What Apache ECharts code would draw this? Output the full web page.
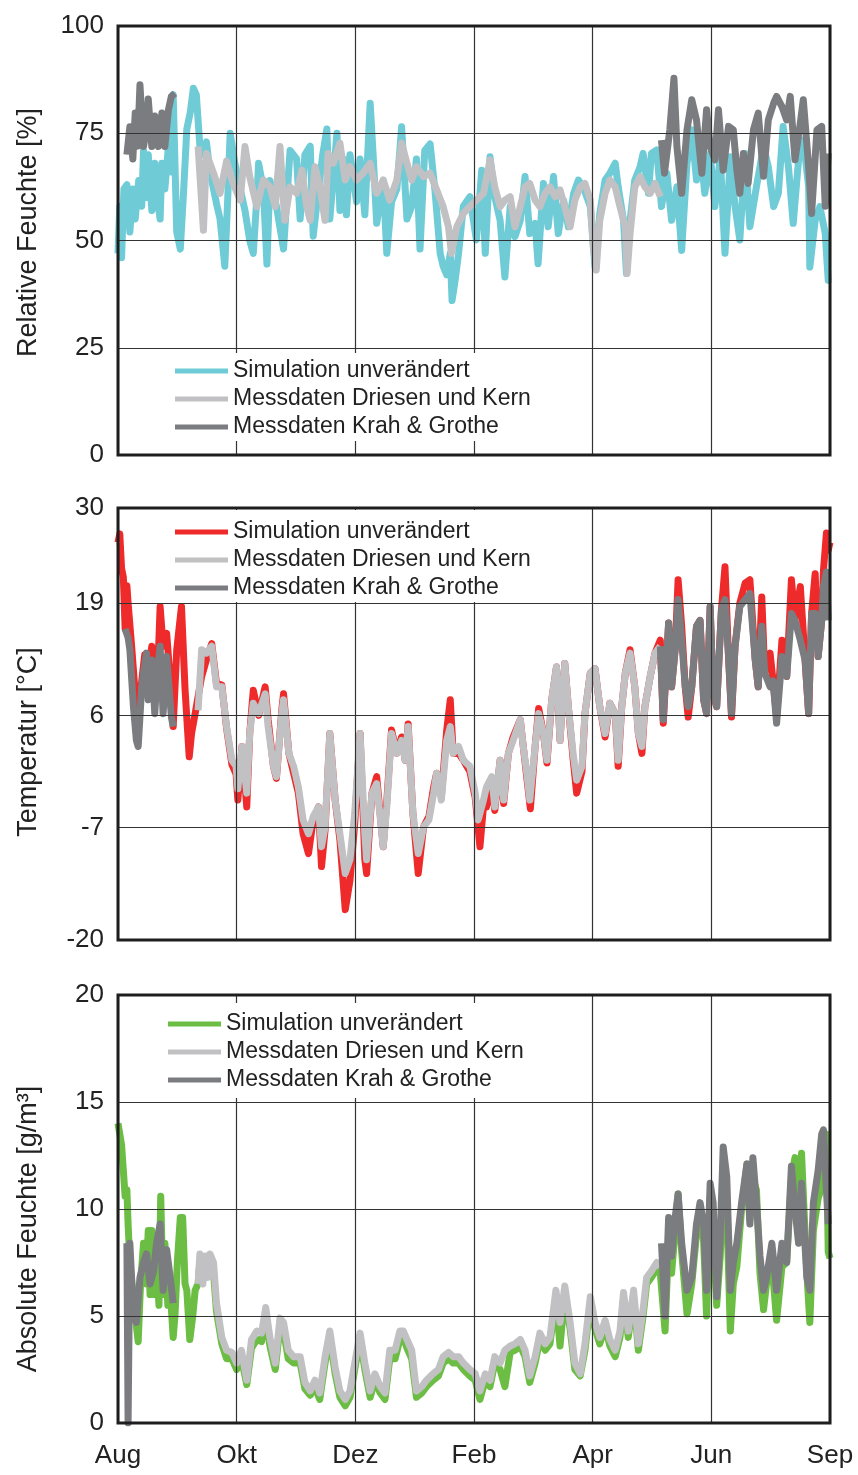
<!DOCTYPE html>
<html>
<head>
<meta charset="utf-8">
<script src="https://cdn.jsdelivr.net/npm/echarts@6/dist/echarts.min.js"></script>
<style>
  html, body { margin: 0; padding: 0; background: #fff; }
  #chart { width: 858px; height: 1475px; }
</style>
</head>
<body>
<div id="chart"></div>
<script>
// x values are months counted from 1 August
const monthLabels = ['Aug', 'Okt', 'Dez', 'Feb', 'Apr', 'Jun', 'Sep'];
const seriesNames = ['Simulation unverändert', 'Messdaten Driesen und Kern', 'Messdaten Krah & Grothe'];

// Relative Feuchte [%]
const rhSim = [[0,47],[0.03,58],[0.06,46],[0.1,62],[0.15,63],[0.2,52],[0.25,62],[0.29,55],[0.35,64],[0.4,58],[0.43,71],[0.48,60],[0.51,70],[0.57,57],[0.62,68],[0.68,58],[0.71,55],[0.74,68],[0.79,62],[0.85,72],[0.9,66],[0.93,84],[0.99,52],[1.05,48],[1.1,60],[1.16,76],[1.22,80],[1.27,85.5],[1.32,84],[1.38,72],[1.44,70],[1.49,73],[1.55,66],[1.61,62],[1.67,58],[1.72,55],[1.8,44],[1.85,60],[1.89,75],[1.97,68],[2.06,62],[2.14,57],[2.22,50],[2.28,47],[2.34,60],[2.37,68],[2.45,62],[2.51,44.5],[2.56,64],[2.67,58],[2.73,53],[2.79,48],[2.9,71],[3.01,69],[3.07,55],[3.15,70],[3.24,72],[3.29,51],[3.38,62],[3.45,70],[3.52,76],[3.57,55],[3.69,75],[3.74,57],[3.8,69],[3.85,56],[3.91,70],[4.02,59],[4.08,69],[4.16,56],[4.25,82],[4.3,70],[4.36,54],[4.47,64],[4.53,47],[4.61,59],[4.7,62],[4.78,76.5],[4.87,55],[4.95,58],[5.03,69],[5.09,48],[5.17,71],[5.26,72.5],[5.34,62],[5.43,47],[5.48,44],[5.54,42],[5.6,47],[5.63,36],[5.68,40.5],[5.74,47],[5.82,58],[5.93,60.2],[6.04,50.1],[6.13,66.4],[6.19,47],[6.27,69.5],[6.35,60.2],[6.44,54.7],[6.52,41.5],[6.61,57.9],[6.69,50.9],[6.78,54.7],[6.86,64.9],[6.94,51.6],[7.03,54],[7.08,44.6],[7.17,63.3],[7.25,53.2],[7.34,64.9],[7.42,51.6],[7.51,59.4],[7.59,53.2],[7.68,61],[7.76,64.1],[7.84,62.5],[7.96,57.9],[8.04,43.8],[8.12,56.3],[8.21,64.1],[8.29,65.7],[8.38,68],[8.43,62.5],[8.52,54.7],[8.57,42.3],[8.63,54.7],[8.71,64.1],[8.8,67.2],[8.85,70.3],[8.94,61],[8.99,70.3],[9.08,71.1],[9.16,57.9],[9.25,65.7],[9.33,54.7],[9.42,62.5],[9.5,47.7],[9.59,68],[9.67,75.8],[9.75,64.1],[9.81,71.9],[9.89,61],[9.98,70.3],[10.06,57.9],[10.15,69.5],[10.23,47],[10.32,69.5],[10.4,57.9],[10.48,50.1],[10.57,70.3],[10.65,53.2],[10.76,62.5],[10.88,71.9],[10.96,67.2],[11.05,57.9],[11.13,61],[11.21,76.6],[11.3,67.2],[11.38,54],[11.47,68.8],[11.55,73.4],[11.64,62.5],[11.66,43.8],[11.75,54.7],[11.83,57.9],[11.92,51.6],[11.97,40.7],[12,41]];
const rhDriesen = [[1.35,71.9],[1.44,52.4],[1.49,70.3],[1.61,65.7],[1.72,61],[1.83,68.5],[1.94,63.3],[2.06,59.4],[2.14,71.9],[2.22,64.9],[2.34,57.9],[2.45,64.1],[2.56,62.5],[2.65,57.9],[2.73,71.9],[2.81,54.7],[2.9,62.5],[3.01,61],[3.1,66.4],[3.18,57.9],[3.24,54.7],[3.32,67.2],[3.4,62.5],[3.49,54.7],[3.54,70.3],[3.63,68],[3.74,72.7],[3.83,64.1],[3.91,67.2],[4.02,64.1],[4.13,65.7],[4.25,68],[4.36,61],[4.47,64.1],[4.58,59.4],[4.7,64.1],[4.78,72.7],[4.87,68],[4.95,64.1],[5.03,67.2],[5.15,64.9],[5.26,65.7],[5.37,61.8],[5.48,57.9],[5.57,53.2],[5.62,47],[5.71,53.2],[5.82,56.3],[5.93,57.9],[6.04,59.4],[6.16,61],[6.27,68.8],[6.35,62.5],[6.44,57.9],[6.52,59.4],[6.61,60.2],[6.69,53.2],[6.78,57.9],[6.86,62.5],[6.94,63.3],[7.03,59.4],[7.11,57.9],[7.2,61],[7.28,62.5],[7.37,60.2],[7.45,61.8],[7.53,57.9],[7.62,53.2],[7.7,59.4],[7.79,62.5],[7.87,63.3],[7.96,59.4],[8.01,48.5],[8.06,43.1],[8.12,54.7],[8.21,61],[8.29,64.1],[8.38,62.5],[8.46,57.9],[8.55,53.2],[8.58,42.3],[8.63,51.6],[8.71,62.5],[8.8,64.9],[8.88,62.5],[8.97,61],[9.05,63.3],[9.14,60.2]];
const rhKrahEarly = [[0.15,70],[0.2,76.5],[0.25,69],[0.29,79.7],[0.33,72],[0.37,86.3],[0.43,71.9],[0.48,76],[0.51,83],[0.57,71.9],[0.62,79],[0.68,71.9],[0.74,79.7],[0.79,71.9],[0.85,80.5],[0.9,83.6],[0.96,84.3]];
const rhKrahLate = [[9.16,73.4],[9.21,65.7],[9.3,75.8],[9.37,87.8],[9.42,71.9],[9.5,61],[9.59,75.8],[9.67,82.8],[9.75,78.1],[9.84,65.7],[9.92,80.5],[9.98,71.9],[10.06,68.8],[10.12,80.5],[10.2,66.4],[10.29,76.6],[10.37,75.8],[10.43,66.4],[10.48,61],[10.54,70.3],[10.62,63.3],[10.71,75.8],[10.79,79.7],[10.88,65],[10.96,78.1],[11.05,82],[11.1,83.6],[11.19,81.2],[11.27,78.1],[11.33,83.6],[11.41,68.8],[11.5,77.4],[11.55,82.8],[11.64,67.2],[11.69,56.3],[11.78,75.8],[11.86,76.6],[11.92,58],[11.97,70.3]];

// Temperatur [°C]
const tSim = [[0,26],[0.03,27],[0.06,23],[0.09,22],[0.12,16],[0.15,21],[0.17,19],[0.23,14],[0.29,8.5],[0.34,6],[0.4,10],[0.45,13],[0.51,11],[0.57,14],[0.62,10],[0.68,13],[0.71,18.6],[0.76,14],[0.82,15.5],[0.88,10],[0.93,4.7],[0.99,13.6],[1.07,18.6],[1.13,9],[1.2,1.2],[1.24,3.9],[1.3,6.2],[1.41,10.5],[1.49,12.4],[1.58,14.3],[1.66,9.7],[1.75,9.5],[1.83,4.5],[1.92,0.3],[1.99,-0.8],[2.02,-3.8],[2.09,2.4],[2.17,-4.6],[2.22,3.9],[2.28,8.9],[2.37,6],[2.48,9.3],[2.53,5.5],[2.62,0.1],[2.67,-1.3],[2.76,6.6],[2.79,8.5],[2.88,1.6],[2.96,-0.7],[3.04,-3],[3.12,-7.7],[3.21,-10],[3.29,-6.1],[3.38,-4.6],[3.43,-11.5],[3.49,-7.3],[3.57,3.9],[3.66,-3.8],[3.74,-8.4],[3.83,-16.5],[3.91,-13.1],[3.99,-6.5],[4.08,3.9],[4.16,-10.7],[4.19,-12.3],[4.28,-3],[4.36,-1.1],[4.47,-9.2],[4.53,-4],[4.61,4.3],[4.7,1.6],[4.78,3.5],[4.84,0.8],[4.89,5],[4.97,-5.3],[5.06,-12.3],[5.15,-6.9],[5.24,-5.7],[5.32,-2.3],[5.37,-0.7],[5.45,-3.4],[5.54,4.3],[5.6,7.8],[5.65,1.6],[5.74,1.6],[5.82,0.8],[5.93,-0.5],[6.02,-3.5],[6.1,-9.2],[6.16,-4.5],[6.21,-4.6],[6.3,-2],[6.35,-5],[6.44,0.8],[6.5,-4.2],[6.58,1.6],[6.66,3.5],[6.78,5.5],[6.83,2.4],[6.89,-1.2],[6.95,-4.8],[7.03,2.4],[7.09,6.8],[7.17,3.9],[7.23,0.5],[7.31,7.8],[7.39,11.6],[7.45,3.1],[7.53,12],[7.59,7],[7.67,1],[7.73,-3],[7.82,-0.5],[7.87,6.2],[7.96,10.9],[8.04,11.4],[8.12,7],[8.21,3.5],[8.29,7.4],[8.38,6.2],[8.43,0.1],[8.49,7],[8.55,10.9],[8.63,13.6],[8.71,9.3],[8.77,3.9],[8.83,1.6],[8.88,7],[8.97,10.5],[9.05,13.2],[9.14,14.7],[9.19,5.1],[9.28,16.7],[9.33,9.3],[9.39,13.6],[9.44,21.7],[9.5,16.3],[9.56,9.3],[9.61,5.8],[9.67,9.3],[9.75,16.3],[9.81,17],[9.87,7.8],[9.92,6.2],[9.98,18.6],[10.03,8.5],[10.09,7],[10.17,18.2],[10.23,23.2],[10.29,12.8],[10.34,5.8],[10.4,14],[10.48,19],[10.57,21.3],[10.65,21.7],[10.74,12.4],[10.79,9.3],[10.85,19.7],[10.9,10.9],[10.99,13.2],[11.04,10],[11.1,5.8],[11.19,14.7],[11.27,10.5],[11.35,21.7],[11.41,17],[11.5,20.9],[11.58,12.4],[11.64,6.2],[11.69,17.8],[11.75,22.4],[11.8,12.8],[11.86,17],[11.89,22.8],[11.94,27.1],[11.97,25.1],[12,26]];
const tDriesen = [[1.35,6.6],[1.41,13.6],[1.49,13.2],[1.58,14],[1.66,9.3],[1.75,9.3],[1.83,4.7],[1.92,0.8],[1.99,0.1],[2.02,-2.5],[2.09,2.4],[2.17,-3],[2.22,3.9],[2.28,7.4],[2.37,6.2],[2.48,8.5],[2.53,4.7],[2.62,0.1],[2.67,-1.1],[2.76,6.2],[2.79,7.8],[2.88,1.6],[2.96,0.1],[3.04,-2.3],[3.12,-6.1],[3.21,-7.7],[3.29,-5.7],[3.38,-4.6],[3.43,-9.2],[3.49,-6.9],[3.57,3.9],[3.66,-3.8],[3.74,-7.7],[3.83,-12.3],[3.91,-10.7],[3.99,-5.3],[4.08,3.9],[4.16,-7.7],[4.19,-10.7],[4.28,-3],[4.36,-1.9],[4.47,-9.2],[4.53,-4.6],[4.61,3.9],[4.7,1.6],[4.78,3.1],[4.84,0.8],[4.89,4.7],[4.97,-5.3],[5.06,-10],[5.15,-6.9],[5.24,-6.1],[5.32,-3],[5.37,-0.7],[5.45,-3.8],[5.54,3.1],[5.6,4.7],[5.65,1.6],[5.74,2.4],[5.82,0.8],[5.93,0.1],[6.02,-3],[6.07,-6.1],[6.16,-3.8],[6.21,-2.3],[6.3,-1.1],[6.35,-4.6],[6.44,0.8],[6.5,-3.8],[6.58,1.6],[6.66,3.1],[6.78,5.5],[6.83,2.4],[6.89,-0.7],[6.94,-3.8],[7.03,2.4],[7.09,6.2],[7.17,3.9],[7.23,0.8],[7.31,7.8],[7.39,11.6],[7.45,3.1],[7.53,12],[7.59,7],[7.67,1.6],[7.73,-1.5],[7.82,0.1],[7.87,6.2],[7.96,10.9],[8.04,11.4],[8.12,7],[8.21,3.9],[8.29,7.4],[8.38,6.2],[8.43,0.8],[8.49,7],[8.55,10.9],[8.63,13.2],[8.71,9.3],[8.77,3.9],[8.83,2.4],[8.88,7],[8.97,10.5],[9.05,13.2],[9.14,14]];
const tKrahEarly = [[0.12,16],[0.17,15],[0.2,13.6],[0.26,7],[0.31,3.1],[0.34,2.4],[0.4,9.3],[0.43,10.9],[0.48,13.2],[0.51,7.8],[0.57,12.4],[0.62,6.2],[0.66,11],[0.71,14],[0.76,6.2],[0.82,12.8],[0.9,5.8],[0.93,4.7]];
const tKrahLate = [[9.14,14],[9.19,5.5],[9.28,16.7],[9.33,9.3],[9.39,13.6],[9.44,19.4],[9.5,14.7],[9.56,9.3],[9.61,7],[9.67,9.3],[9.75,16.3],[9.81,17],[9.87,7.8],[9.92,6.2],[9.98,18.6],[10.03,8.5],[10.09,7],[10.17,18.2],[10.23,19.4],[10.29,12.8],[10.34,6.2],[10.4,14],[10.48,18.6],[10.57,19.4],[10.65,20.1],[10.74,12.4],[10.79,9.3],[10.85,16.3],[10.9,10.9],[10.99,9.3],[11.04,10],[11.1,5.1],[11.19,12.8],[11.27,10.5],[11.35,17.8],[11.41,17],[11.5,14.7],[11.58,12.4],[11.64,6.2],[11.69,17.8],[11.75,17.8],[11.8,12.8],[11.86,17],[11.89,20.9],[11.94,22.6],[11.97,17]];

// Absolute Feuchte [g/m³]
const ahSim = [[0,14],[0.06,13],[0.09,11.8],[0.12,10.6],[0.15,10.9],[0.17,9.3],[0.2,7.5],[0.23,7.5],[0.29,5],[0.34,3.8],[0.38,6.5],[0.43,8.4],[0.47,6.5],[0.51,9],[0.54,6],[0.57,9],[0.61,6],[0.65,7.8],[0.69,5.5],[0.72,10.6],[0.76,6],[0.79,8.4],[0.84,5.5],[0.88,6.2],[0.93,4],[0.96,5],[1,7.5],[1.05,9.6],[1.09,9.6],[1.13,6.5],[1.16,6.2],[1.21,3.9],[1.26,5],[1.3,6.2],[1.35,6.5],[1.38,7.6],[1.47,7.4],[1.55,7.5],[1.61,7],[1.66,5.2],[1.75,3.7],[1.83,3],[1.92,3],[2,2.5],[2.08,3],[2.17,1.8],[2.25,3.5],[2.34,3.9],[2.42,3.8],[2.49,5],[2.56,3.6],[2.65,2.5],[2.73,4.5],[2.79,4.3],[2.87,3],[2.96,2.8],[3.07,2.8],[3.15,1.6],[3.24,1.3],[3.32,1.7],[3.4,1.1],[3.49,2.8],[3.57,4],[3.66,2.3],[3.74,1.2],[3.83,0.8],[3.91,1.2],[3.99,2.5],[4.08,3.9],[4.16,2.5],[4.25,1.2],[4.33,2],[4.42,1.4],[4.5,1.1],[4.58,3],[4.67,3],[4.75,3.9],[4.81,4],[4.87,3.5],[4.95,3],[5.03,1.2],[5.12,1.4],[5.2,1.7],[5.31,2],[5.4,2.2],[5.48,2.8],[5.57,3],[5.65,2.8],[5.74,2.8],[5.82,2.5],[5.93,2.2],[6.02,2],[6.1,1.1],[6.19,2],[6.27,1.7],[6.35,2.8],[6.44,2.5],[6.52,1.7],[6.61,3.3],[6.69,3.4],[6.78,3.6],[6.86,3.1],[6.94,1.9],[7.03,2.8],[7.11,3.9],[7.2,3.4],[7.28,3.7],[7.38,5.8],[7.45,3.6],[7.53,6],[7.62,4.4],[7.7,2.5],[7.79,2.2],[7.87,3.4],[7.96,5.6],[8.04,4.4],[8.12,3.7],[8.21,4.5],[8.29,3.6],[8.38,3.1],[8.46,4],[8.52,5.8],[8.6,4],[8.69,5.9],[8.77,3.4],[8.85,5],[8.91,6.5],[8.99,6.8],[9.08,7.2],[9.14,7],[9.22,4.3],[9.28,8.5],[9.33,7],[9.39,9],[9.44,10.7],[9.5,8],[9.59,5.1],[9.67,6.5],[9.75,8.8],[9.81,9.8],[9.87,8.5],[9.92,5],[9.98,10.5],[10.03,9],[10.09,5.5],[10.15,7.8],[10.2,11],[10.26,10],[10.32,4.3],[10.37,6.5],[10.43,7.3],[10.51,10],[10.6,12.1],[10.65,9.5],[10.7,11.4],[10.76,10.9],[10.82,7],[10.88,5.3],[10.93,6.5],[11.02,7.5],[11.1,4.8],[11.19,7.3],[11.27,7.5],[11.35,11.5],[11.41,12.4],[11.47,9.5],[11.52,12.6],[11.61,7],[11.66,4.7],[11.72,9],[11.8,10.5],[11.86,11],[11.89,12.5],[11.94,13.5],[11.97,8],[12,7.7]];
const ahDriesen = [[1.35,6.5],[1.38,7.9],[1.43,6.5],[1.47,7.8],[1.51,6.8],[1.55,7.9],[1.61,7.5],[1.66,5.6],[1.75,4],[1.83,3.4],[1.92,3.3],[2,2.8],[2.08,3.4],[2.17,2],[2.25,3.9],[2.34,4.3],[2.42,4.2],[2.49,5.4],[2.56,4],[2.65,2.8],[2.73,4.9],[2.79,4.7],[2.87,3.4],[2.96,3.1],[3.07,3.1],[3.15,1.9],[3.24,1.5],[3.32,2],[3.4,1.4],[3.49,3.1],[3.57,4.3],[3.66,2.6],[3.74,1.5],[3.83,1.1],[3.91,1.5],[3.99,2.8],[4.08,4.2],[4.16,2.8],[4.25,1.5],[4.33,2.3],[4.42,1.7],[4.5,1.4],[4.58,3.4],[4.67,3.4],[4.75,4.3],[4.81,4.3],[4.87,3.9],[4.95,3.4],[5.03,1.5],[5.12,1.7],[5.2,2],[5.31,2.3],[5.4,2.5],[5.48,3.1],[5.57,3.3],[5.65,3.1],[5.74,3.1],[5.82,2.8],[5.93,2.5],[6.02,2.3],[6.1,1.5],[6.19,2.3],[6.27,2],[6.35,3.1],[6.44,2.8],[6.52,3.4],[6.61,3.6],[6.69,3.7],[6.78,3.9],[6.86,3.4],[6.94,2.2],[7.03,3.1],[7.11,4.2],[7.2,3.7],[7.28,4],[7.38,6.2],[7.45,4.7],[7.53,6.4],[7.62,4.7],[7.7,2.8],[7.79,2.3],[7.87,3.7],[7.96,5.9],[8.04,4.7],[8.12,4],[8.21,4.8],[8.29,3.9],[8.38,3.4],[8.46,4.3],[8.52,6.1],[8.6,4.3],[8.69,6.2],[8.77,3.7],[8.85,5.3],[8.91,6.8],[8.99,7.1],[9.08,7.5],[9.14,7.3]];
const ahKrahEarly = [[0.15,8.4],[0.17,0],[0.19,0],[0.2,8.4],[0.26,5],[0.31,4.7],[0.37,6.8],[0.43,7.5],[0.48,7.9],[0.54,6.5],[0.6,7.1],[0.65,8.4],[0.71,9.3],[0.76,6.2],[0.82,8.1],[0.88,6.8],[0.93,5.6]];
const ahKrahLate = [[9.16,8.4],[9.22,5],[9.28,9.6],[9.33,7.8],[9.39,9.6],[9.44,10.7],[9.5,8.4],[9.59,6.2],[9.67,6.8],[9.75,9.3],[9.81,10.3],[9.87,9.3],[9.92,6.2],[9.98,11.2],[10.03,10.3],[10.09,5.9],[10.15,8.7],[10.2,12.9],[10.26,11.5],[10.32,6.2],[10.37,7.5],[10.43,8.4],[10.51,10.3],[10.6,12.1],[10.65,9.3],[10.7,12.4],[10.76,10.3],[10.82,7.8],[10.88,6.2],[10.93,6.8],[11.02,8.4],[11.1,6.2],[11.19,8.4],[11.27,7.5],[11.35,12],[11.41,10],[11.47,8.4],[11.52,11.2],[11.61,6.8],[11.66,6.2],[11.72,10.3],[11.8,11.8],[11.86,13.5],[11.89,13.7],[11.94,10.9],[11.97,9.3]];

// y-axis scales and titles for the three panels
const yTitles = ['Relative Feuchte [%]', 'Temperatur [°C]', 'Absolute Feuchte [g/m³]'];
const yMin = [0, -20, 0];
const yMax = [100, 30, 20];
const yStep = [25, 13, 5];

const FONT = "'Liberation Sans', Arial, Helvetica, sans-serif";
const COL = {
  rh: '#6fcbd6',
  t: '#ee2a2a',
  ah: '#6bbd43',
  driesen: '#c1c1c4',
  krah: '#7b7c80'
};
const LINE_W = 7;

// plot frames sit above the data lines
const grids = [
  { left: 118, top: 26, width: 712, height: 429 },
  { left: 118, top: 508, width: 712, height: 432 },
  { left: 118, top: 995, width: 712, height: 428 }
].map(g => Object.assign(g, { show: true, borderColor: '#1e1e1e', borderWidth: 3, backgroundColor: 'transparent', z: 6 }));

// grid lines are drawn over the data lines
const xAxes = [0, 1, 2].map(i => ({
  type: 'value', gridIndex: i, min: 0, max: 12, interval: 2, z: 5,
  axisLine: { show: false }, axisTick: { show: false },
  splitLine: { show: true, lineStyle: { color: '#333', width: 1.2 } },
  axisLabel: {
    show: i === 2, margin: 20, fontSize: 26, color: '#222', fontFamily: FONT,
    formatter: v => monthLabels[Math.round(v / 2)]
  }
}));

const namePad = [[0, 0, 0, 16], [0, 36, 0, 0], [0, 40, 0, 0]];
const yAxes = [0, 1, 2].map(i => ({
  type: 'value', gridIndex: i, min: yMin[i], max: yMax[i], interval: yStep[i], z: 5,
  name: yTitles[i], nameLocation: 'middle', nameGap: 76,
  nameTextStyle: { fontSize: 27, color: '#222', fontFamily: FONT, padding: namePad[i] },
  axisLine: { show: false }, axisTick: { show: false },
  splitLine: { show: true, lineStyle: { color: '#333', width: 1.2 } },
  axisLabel: { fontSize: 26, color: '#222', fontFamily: FONT, margin: 14 }
}));

function line(name, data, idx, color) {
  return {
    name, type: 'line', data, xAxisIndex: idx, yAxisIndex: idx,
    showSymbol: false, symbol: 'none', animation: false, silent: true,
    clip: true,
    lineStyle: { color, width: LINE_W, join: 'round' },
    itemStyle: { color }, z: 2
  };
}

const series = [
  line(seriesNames[0], rhSim, 0, COL.rh),
  line(seriesNames[1], rhDriesen, 0, COL.driesen),
  line(seriesNames[2], rhKrahEarly, 0, COL.krah),
  line(seriesNames[2], rhKrahLate, 0, COL.krah),
  line(seriesNames[0], tSim, 1, COL.t),
  line(seriesNames[1], tDriesen, 1, COL.driesen),
  line(seriesNames[2], tKrahEarly, 1, COL.krah),
  line(seriesNames[2], tKrahLate, 1, COL.krah),
  line(seriesNames[0], ahSim, 2, COL.ah),
  line(seriesNames[1], ahDriesen, 2, COL.driesen),
  line(seriesNames[2], ahKrahEarly, 2, COL.krah),
  line(seriesNames[2], ahKrahLate, 2, COL.krah)
];

function legend(left, top, padding, simColor) {
  return {
    left, top, padding, orient: 'vertical', icon: 'rect',
    itemWidth: 53, itemHeight: 5, itemGap: 0,
    backgroundColor: '#fff', selectedMode: false, z: 10,
    textStyle: { fontSize: 23, lineHeight: 28, color: '#222', fontFamily: FONT },
    data: [
      { name: seriesNames[0], itemStyle: { color: simColor } },
      { name: seriesNames[1], itemStyle: { color: COL.driesen } },
      { name: seriesNames[2], itemStyle: { color: COL.krah } }
    ]
  };
}

const chart = echarts.init(document.getElementById('chart'), null, { renderer: 'canvas' });
chart.setOption({
  animation: false,
  backgroundColor: '#fff',
  grid: grids,
  xAxis: xAxes,
  yAxis: yAxes,
  legend: [
    legend(150, 353, [4, 14, 0, 25], COL.rh),
    legend(150, 510, [8, 32, 0, 25], COL.t),
    legend(145, 1003, [7, 24, 4, 23], COL.ah)
  ],
  series
});
</script>
</body>
</html>
